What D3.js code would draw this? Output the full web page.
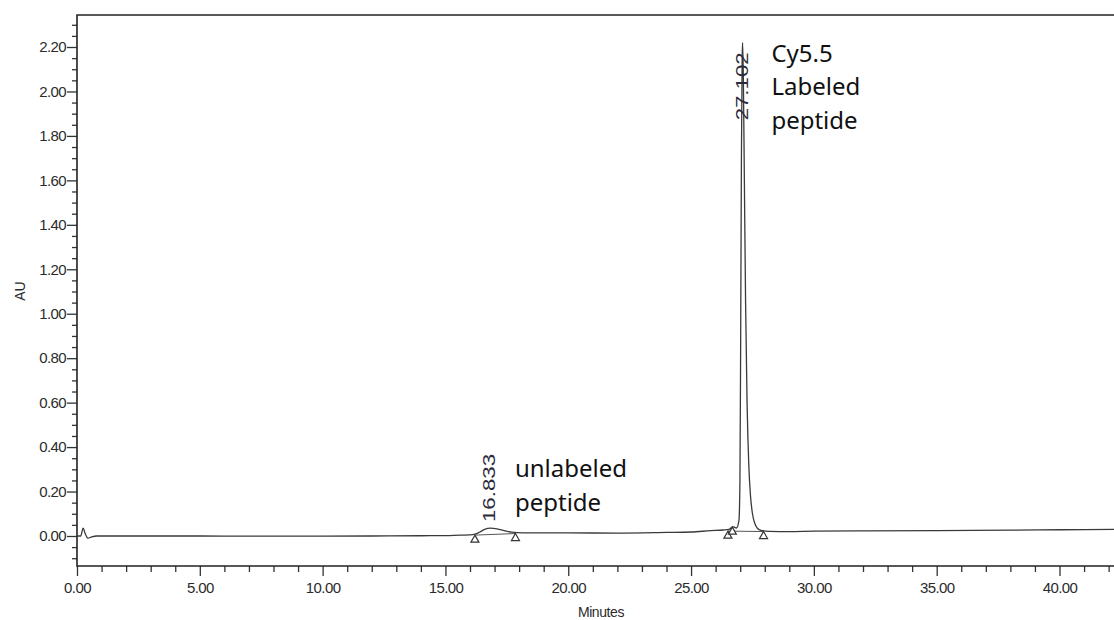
<!DOCTYPE html>
<html>
<head>
<meta charset="utf-8">
<script src="https://cdn.jsdelivr.net/npm/d3@7"></script>
<style>
  body { margin: 0; background: #fff; }
  svg { display: block; }
  .axis path, .axis line { stroke: #333; }
  .axis text { font-family: "Liberation Sans", Arial, sans-serif; font-size: 15px; fill: #2b2b2b; letter-spacing: -0.6px; }
</style>
</head>
<body>
<div id="chart"></div>
<script>
// chromatogram trace (minutes, AU)
var traceTime = [0.00, 0.15, 0.25, 0.33, 0.45, 0.60, 0.80, 1.00, 3.00, 5.00, 8.00, 10.00, 12.00, 14.00, 15.00, 15.60,
  16.00, 16.20, 16.40, 16.60, 16.83, 17.10, 17.40, 17.70, 17.90, 18.50, 20.00, 22.00, 24.00, 25.00, 25.80,
  26.30, 26.55, 26.70, 26.85, 26.95, 26.99, 27.02, 27.05, 27.08, 27.10, 27.13, 27.17, 27.22, 27.28, 27.35,
  27.42, 27.50, 27.60, 27.70, 27.85, 28.20, 29.00, 30.00, 32.00, 35.00, 38.00, 40.00, 42.30];
var traceAU = [0.000, 0.000, 0.035, 0.012, -0.010, -0.004, 0.000, 0.000, 0.000, 0.000, -0.001, -0.001, 0.000, 0.001, 0.002, 0.004,
  0.005, 0.008, 0.018, 0.030, 0.035, 0.032, 0.024, 0.017, 0.015, 0.014, 0.014, 0.013, 0.016, 0.018, 0.024,
  0.027, 0.030, 0.042, 0.036, 0.070, 0.250, 0.900, 1.700, 2.150, 2.220, 2.050, 1.600, 1.050, 0.600, 0.320,
  0.180, 0.100, 0.055, 0.035, 0.025, 0.021, 0.020, 0.022, 0.023, 0.024, 0.026, 0.028, 0.030];

// integration marks (peak start / end)
var markTime = [16.20, 17.85, 26.50, 26.68, 27.95];
var markAU = [0.004, 0.011, 0.022, 0.040, 0.020];
// integration baselines drawn under each peak
var baseStart = [[16.20, 0.004], [26.50, 0.022]];
var baseEnd = [[17.85, 0.011], [27.95, 0.020]];

// retention time labels
var peakLabels = ["16.833", "27.102"];
var peakLabelTime = [16.833, 27.102];
var peakLabelAU = [0.063, 1.870];

// annotations
var noteLines = [["unlabeled", "peptide"], ["Cy5.5", "Labeled", "peptide"]];
var noteTime = [17.83, 28.27];
var noteAU = [0.265, 2.133];

var yMajor = [0.00, 0.20, 0.40, 0.60, 0.80, 1.00, 1.20, 1.40, 1.60, 1.80, 2.00, 2.20];
var xMajor = [0, 5, 10, 15, 20, 25, 30, 35, 40];

var W = 1114, H = 620;
var plotLeft = 77, plotTop = 15, plotBottom = 566;

var svg = d3.select("#chart").append("svg")
  .attr("width", W)
  .attr("height", H);

var x = d3.scaleLinear().domain([0, 42.3]).range([plotLeft, 1116]);
var y = d3.scaleLinear().domain([-0.135, 2.344]).range([plotBottom, plotTop]);

// minor ticks
var yMinor = d3.range(-0.10, 2.34, 0.05).filter(function(v) { return Math.abs(Math.round(v * 5) - v * 5) > 0.01; });
var xMinor = d3.range(0, 43, 1).filter(function(v) { return v % 5 != 0; });

svg.append("g")
  .attr("class", "axis")
  .attr("transform", "translate(" + plotLeft + ",0)")
  .call(d3.axisLeft(y).tickValues(yMinor).tickSize(5).tickFormat("").tickSizeOuter(0))
  .call(function(g) { g.select(".domain").remove(); })
  .selectAll("line").attr("stroke-width", 1.3);

svg.append("g")
  .attr("class", "axis")
  .attr("transform", "translate(0," + plotBottom + ")")
  .call(d3.axisBottom(x).tickValues(xMinor).tickSize(6).tickFormat("").tickSizeOuter(0))
  .call(function(g) { g.select(".domain").remove(); })
  .selectAll("line").attr("stroke-width", 1.3);

var yAxis = svg.append("g")
  .attr("class", "axis")
  .attr("transform", "translate(" + plotLeft + ",0)")
  .call(d3.axisLeft(y).tickValues(yMajor).tickSize(10).tickPadding(1).tickSizeOuter(0)
    .tickFormat(d3.format(".2f")));
yAxis.select(".domain").remove();
yAxis.selectAll("line").attr("stroke-width", 1.3);

var xAxis = svg.append("g")
  .attr("class", "axis")
  .attr("transform", "translate(0," + plotBottom + ")")
  .call(d3.axisBottom(x).tickValues(xMajor).tickSize(10).tickPadding(6).tickSizeOuter(0)
    .tickFormat(d3.format(".2f")));
xAxis.select(".domain").remove();
xAxis.selectAll("line").attr("stroke-width", 1.3);

// frame
svg.append("path")
  .attr("d", "M" + W + "," + plotTop + "H" + plotLeft + "V" + plotBottom + "H" + W)
  .attr("fill", "none")
  .attr("stroke", "#222")
  .attr("stroke-width", 1.6);

// axis titles
svg.append("text")
  .attr("transform", "translate(25,291) rotate(-90)")
  .attr("text-anchor", "middle")
  .style("font-family", "Liberation Sans, Arial, sans-serif")
  .style("font-size", "14px")
  .attr("fill", "#2b2b2b")
  .text("AU");

svg.append("text")
  .attr("x", 601)
  .attr("y", 617)
  .attr("text-anchor", "middle")
  .style("font-family", "Liberation Sans, Arial, sans-serif")
  .style("font-size", "14px")
  .style("letter-spacing", "-0.4px")
  .attr("fill", "#2b2b2b")
  .text("Minutes");

// integration baselines
svg.selectAll(".base")
  .data(baseStart)
  .enter().append("line")
  .attr("x1", function(d) { return x(d[0]); })
  .attr("y1", function(d) { return y(d[1]); })
  .attr("x2", function(d, i) { return x(baseEnd[i][0]); })
  .attr("y2", function(d, i) { return y(baseEnd[i][1]); })
  .attr("stroke", "#555")
  .attr("stroke-width", 1);

// trace
var trace = traceTime.map(function(t, i) { return [t, traceAU[i]]; });
var line = d3.line()
  .x(function(d) { return x(d[0]); })
  .y(function(d) { return y(d[1]); })
  .curve(d3.curveMonotoneX);

svg.append("path")
  .datum(trace)
  .attr("fill", "none")
  .attr("stroke", "#3a3a3a")
  .attr("stroke-width", 1.3)
  .attr("d", line);

// triangle markers
svg.selectAll(".mark")
  .data(markTime)
  .enter().append("path")
  .attr("d", function(t, i) {
    var px = x(t), py = y(markAU[i]);
    return "M" + px + "," + py + "L" + (px + 4) + "," + (py + 7) + "L" + (px - 4) + "," + (py + 7) + "Z";
  })
  .attr("fill", "#fff")
  .attr("stroke", "#333")
  .attr("stroke-width", 1.2);

// retention time labels
svg.selectAll(".rt")
  .data(peakLabels)
  .enter().append("text")
  .attr("transform", function(d, i) {
    return "translate(" + (x(peakLabelTime[i]) + 5) + "," + y(peakLabelAU[i]) + ") rotate(-90)";
  })
  .attr("textLength", 68)
  .attr("lengthAdjust", "spacingAndGlyphs")
  .style("font-family", "Liberation Sans, Arial, sans-serif")
  .style("font-size", "17px")
  .attr("fill", "#2a2a3a")
  .text(function(d) { return d; });

// annotations
noteLines.forEach(function(lines, i) {
  var t = svg.append("text")
    .attr("x", x(noteTime[i]))
    .attr("y", y(noteAU[i]))
    .style("font-family", "Noto Sans, Open Sans, sans-serif")
    .style("font-size", "24px")
    .attr("fill", "#111");
  lines.forEach(function(s, j) {
    t.append("tspan")
      .attr("x", x(noteTime[i]))
      .attr("dy", j == 0 ? 0 : 33.5)
      .text(s);
  });
});
</script>
</body>
</html>
